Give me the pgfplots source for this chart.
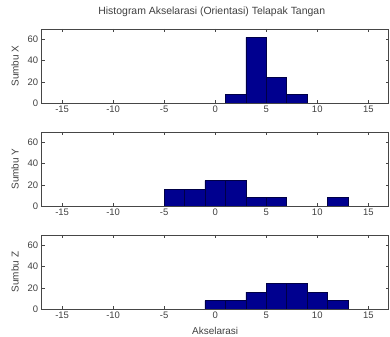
\documentclass[border=0pt]{standalone}
\usepackage{pgfplots}
\pgfplotsset{compat=1.18}
\usepackage{fontspec}
\setmainfont{Liberation Sans}
\definecolor{barblue}{RGB}{0,0,143}
\definecolor{baredge}{RGB}{0,0,70}
\definecolor{axgray}{RGB}{70,70,70}
\pgfplotsset{
  hist/.style={
    scale only axis, width=347bp, height=74bp,
    anchor=north west,
    xmin=-17, xmax=17, ymin=0, ymax=70,
    xtick={-15,-10,...,15}, ytick={0,20,40,60},
    tick align=inside, major tick length=3bp,
    axis line style={axgray, line width=0.6pt},
    every tick/.style={axgray, line width=0.5pt},
    tick label style={font=\fontsize{9.5}{10}\selectfont, text=black!75},
    xticklabel style={yshift=1bp},
    /pgf/number format/assume math mode=true,
    ylabel style={at={(axis description cs:-0.077,0.5)}, anchor=center, font=\fontsize{10}{11}\selectfont, text=black!75},
  },
  hbar/.style={ybar interval, fill=barblue, draw=baredge, line width=0.4pt},
}
\begin{document}
\begin{tikzpicture}
\useasboundingbox (0bp,0bp) rectangle (390bp,337bp);
\begin{axis}[hist, at={(41.7bp,308bp)}, ylabel={Sumbu X},
  title={Histogram Akselarasi (Orientasi) Telapak Tangan},
  title style={font=\fontsize{10.5}{12}\selectfont, text=black!75, at={(axis description cs:0.49,1)}, anchor=south, yshift=3bp}]
\addplot[hbar] coordinates {(1,8)(3,62)(5,24)(7,8)(9,0)};
\end{axis}
\begin{axis}[hist, at={(41.7bp,205bp)}, ylabel={Sumbu Y}]
\addplot[hbar] coordinates {(-5,16)(-3,16)(-1,24)(1,24)(3,8)(5,8)(7,0)};
\addplot[hbar] coordinates {(11,8)(13,0)};
\end{axis}
\begin{axis}[hist, at={(41.7bp,102bp)}, ylabel={Sumbu Z},
  xlabel={Akselarasi},
  xlabel style={at={(axis description cs:0.5,-0.29)}, anchor=center, font=\fontsize{10}{11}\selectfont, text=black!75}]
\addplot[hbar] coordinates {(-1,8)(1,8)(3,16)(5,24)(7,24)(9,16)(11,8)(13,0)};
\end{axis}
\end{tikzpicture}
\end{document}
